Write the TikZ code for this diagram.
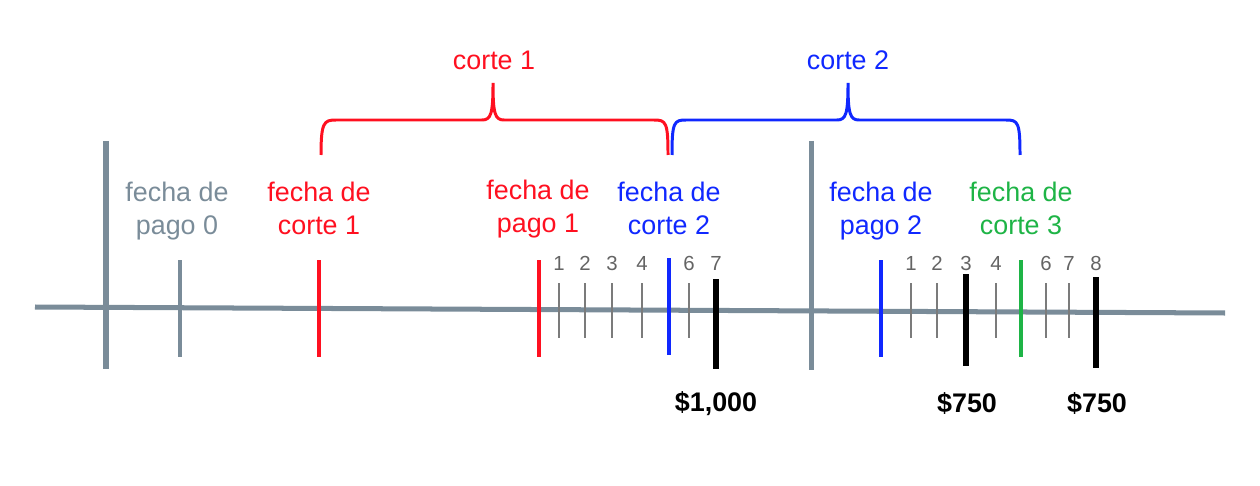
\documentclass[tikz,border=0pt]{standalone}
\usepackage{fontspec}
\setmainfont{Liberation Sans}
\usetikzlibrary{positioning}

\definecolor{ejegris}{RGB}{122,140,153}
\definecolor{rojo}{RGB}{255,16,32}
\definecolor{azul}{RGB}{16,40,255}
\definecolor{verde}{RGB}{30,180,70}
\definecolor{numgris}{RGB}{100,100,100}

\begin{document}
\begin{tikzpicture}[x=0.02cm, y=-0.02cm,
  eje/.style={ejegris, line width=2.85pt},
  marca/.style={line width=2.3pt},
  pago/.style={black, line width=3pt},
  dia/.style={numgris!85, line width=0.9pt},
  etiq/.style={align=center, text depth=0.3em, font=\fontsize{15.3}{18.8}\selectfont},
  num/.style={numgris, font=\fontsize{11.6}{13}\selectfont},
  monto/.style={font=\fontsize{15.3}{18}\selectfont\bfseries},
  llave/.style={line width=1.7pt}]
\useasboundingbox (0,0) rectangle (1260,486);
% eje del tiempo
\draw[eje] (35,307) -- (1225,313);
\draw[eje] (106,141) -- (106,369);
\draw[eje] (811,141) -- (811,370);
\draw[eje, line width=2.3pt] (180,260) -- (180,357);
% fechas
\draw[marca, rojo] (319,260) -- (319,357);
\draw[marca, rojo] (539,260) -- (539,357);
\draw[marca, azul] (669,258) -- (669,355);
\draw[marca, azul] (881,260) -- (881,357);
\draw[marca, verde] (1021,260) -- (1021,357);
% dias
\foreach \x in {559,585,612,642,689,911,937,996,1046,1069}
  \draw[dia] (\x,283) -- (\x,338);
\foreach \x/\n in {559/1,585/2,612/3,642/4,689/6,716/7,911/1,937/2,966/3,996/4,1046/6,1069/7,1096/8}
  \node[num] (d\x) at (\x,263) {\n};
% pagos
\draw[pago] (716,279) -- (716,369);
\draw[pago] (966,274) -- (966,366);
\draw[pago] (1096,277) -- (1096,368);
\node[monto] (m1) at (716,404) {\$1,000};
\node[monto] (m2) at (967,404) {\$750};
\node[monto] (m3) at (1097,404) {\$750};
% etiquetas
\node[etiq, ejegris] (fp0) at (177,211) {fecha de\\pago 0};
\node[etiq, rojo] (fc1) at (319,211) {fecha de\\corte 1};
\node[etiq, rojo] (fp1) at (538,209) {fecha de\\pago 1};
\node[etiq, azul] (fc2) at (669,211) {fecha de\\corte 2};
\node[etiq, azul] (fp2) at (881,211) {fecha de\\pago 2};
\node[etiq, verde] (fc3) at (1021,211) {fecha de\\corte 3};
% llaves
\draw[llave, rojo] (321,155) .. controls (321,122) and (324,120) .. (336,120) -- (482,120)
  .. controls (491,120) and (493,114) .. (493,83) .. controls (493,114) and (495,120) .. (504,120)
  -- (654,120) .. controls (666,120) and (668,122) .. (668,155);
\draw[llave, azul] (672,155) .. controls (672,122) and (674,120) .. (686,120) -- (837,120)
  .. controls (846,120) and (848,114) .. (848,83) .. controls (848,114) and (850,120) .. (859,120)
  -- (1006,120) .. controls (1018,120) and (1020,122) .. (1020,155);
\node[etiq, rojo] (c1) at (494,63) {corte 1};
\node[etiq, azul] (c2) at (848,63) {corte 2};
\end{tikzpicture}
\end{document}
